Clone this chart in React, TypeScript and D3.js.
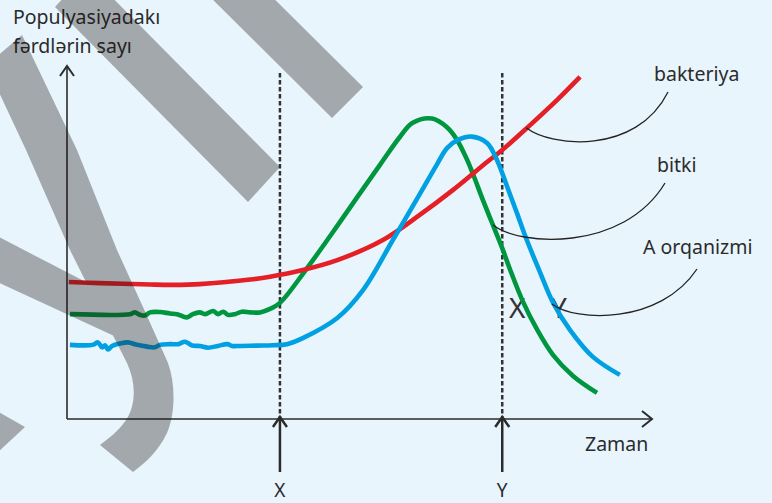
import React from "react";
import * as d3 from "d3";

const W = 772;
const H = 503;

// time (0-100 along the x axis) and population values (0-100 along the y axis)
const bacteriaT = [0.3, 5.6, 14.2, 18.1, 22.7, 31.3, 34.7, 40.3, 46.2, 54.0, 60.3, 66.0, 71.8, 74.4, 78.6, 83.8, 87.7];
const bacteriaV = [38.8, 38.5, 38.1, 38.0, 38.2, 39.5, 40.3, 42.2, 45.0, 50.7, 57.8, 64.9, 72.8, 76.2, 82.4, 90.4, 96.9];

const plantT = [0.5, 10.8, 11.6, 12.5, 13.3, 14.2, 15.9, 17.6, 18.8, 20.5, 21.5, 22.7, 23.6, 25.0, 25.8, 26.7, 27.5, 28.7, 29.9, 31.3, 33.0, 34.7, 36.4, 40.8, 46.2, 50.1, 53.5, 56.9, 59.1, 62.4, 64.9, 66.7, 68.4, 69.4, 71.1, 72.8, 74.4, 75.7, 77.9, 80.3, 83.1, 86.5, 90.6];
const plantV = [29.7, 29.7, 30.2, 29.5, 29.3, 30.2, 30.3, 29.9, 29.7, 28.8, 29.7, 30.2, 29.7, 30.6, 29.7, 30.4, 29.5, 29.7, 30.4, 30.2, 30.2, 31.2, 32.9, 42.2, 54.7, 64.0, 72.0, 79.9, 83.9, 85.1, 82.7, 79.0, 73.4, 69.4, 62.0, 55.0, 48.4, 42.5, 33.4, 25.5, 18.1, 12.2, 7.4];

const organismT = [0.5, 4.4, 5.3, 6.0, 6.5, 7.0, 7.7, 9.1, 10.4, 12.0, 13.7, 15.0, 15.9, 17.6, 19.0, 20.2, 21.4, 22.7, 24.1, 25.8, 27.4, 28.2, 29.6, 32.5, 35.2, 37.6, 40.3, 46.2, 50.6, 55.7, 60.3, 63.2, 65.0, 67.0, 69.2, 71.8, 73.5, 75.2, 76.9, 78.6, 80.9, 83.1, 86.0, 89.9, 94.5];
const organismV = [21.0, 21.0, 21.7, 20.3, 20.9, 19.7, 20.7, 21.4, 21.7, 21.0, 20.5, 20.3, 21.0, 21.2, 21.2, 21.9, 20.8, 20.7, 20.2, 20.7, 21.2, 20.7, 20.7, 20.8, 20.9, 21.2, 22.9, 28.6, 36.5, 50.7, 63.7, 72.0, 76.8, 79.2, 80.0, 78.2, 73.4, 66.0, 58.4, 50.7, 41.4, 32.9, 25.2, 17.6, 12.5];

const seriesNames = ["bitki", "bakteriya", "A orqanizmi"];
const seriesColors = ["#00963f", "#e41f26", "#00a0e3"];

// time markers
const markerLabels = ["X", "Y"];
const markerT = [36.4, 74.4];

const yTitle = ["Populyasiyadakı", "fərdlərin sayı"];
const xTitle = "Zaman";

// leader anchors on the curves (t, v)
const anchorT = [72.8, 78.5, 82.9];
const anchorV = [55.0, 82.5, 32.6];

const x = d3.scaleLinear().domain([0, 100]).range([67, 652]);
const y = d3.scaleLinear().domain([0, 100]).range([419, 66]);

const line = d3
  .line<[number, number]>()
  .x((d) => x(d[0]))
  .y((d) => y(d[1]))
  .curve(d3.curveCatmullRom.alpha(0.5));

const zip = (a: number[], b: number[]) => a.map((t, i) => [t, b[i]] as [number, number]);
const series = [zip(plantT, plantV), zip(bacteriaT, bacteriaV), zip(organismT, organismV)];

const FONT = "'Noto Sans', 'Open Sans', sans-serif";
const INK = "#2b2b2b";

// decorative watermark bands
const wm1 = "M55,7 L248,202 L280,167 L87,-28 Z";
const wm2 = "M200,-13 L332,118 L363,87 L231,-44 Z";
const wm3 =
  "M22,35 L77,150 L117,250 L143,307 L168,363 C176,385 175,415 167,433 C158,452 145,463 133,472 L100,445 C112,436 126,425 131,410 C136,395 134,378 127,363 L100,310 L70,250 L26,150 L-3,88 L-12,64 Z";
const wm4 = "M-5,235 L138,309 L138,347 L-5,281 Z";
const wm5 = "M-5,410 L25,427 L-5,455 Z";

// label layout (series labels + leader curve control offsets)
const labelPos = [
  { x: 657, y: 172, sx: 665, sy: 183, c1: [25, 21], c2: [130, 28] },
  { x: 654, y: 81, sx: 668, sy: 92, c1: [24, 19], c2: [110, 28] },
  { x: 643, y: 254, sx: 697, sy: 269, c1: [23, 18], c2: [108, 21] },
];

export default function App() {
  const bx = markerT.map((t) => x(t));
  return (
    <svg
      width={W}
      height={H}
      style={{ position: "absolute", left: 0, top: 0 }}
      xmlns="http://www.w3.org/2000/svg"
    >
      <rect x={0} y={0} width={W} height={H} fill="#e8f5fd" />

      {/* y title */}
      {yTitle.map((t, i) => (
        <text key={t} x={13} y={24 + i * 29} fontFamily={FONT} fontSize={19.5} fill={INK}>
          {t}
        </text>
      ))}

      {/* axes */}
      <line x1={x(0)} y1={y(0)} x2={x(0)} y2={y(100) + 1} stroke={INK} strokeWidth={1.6} />
      <path d={`M${x(0) - 7},${y(100) + 10} L${x(0)},${y(100)} L${x(0) + 7},${y(100) + 10}`} fill="none" stroke={INK} strokeWidth={2} />
      <line x1={x(0)} y1={y(0)} x2={x(100)} y2={y(0)} stroke={INK} strokeWidth={1.6} />
      <path d={`M${x(100) - 10},${y(0) - 8} L${x(100)},${y(0)} L${x(100) - 10},${y(0) + 8}`} fill="none" stroke={INK} strokeWidth={2} />
      <text x={585} y={451} fontFamily={FONT} fontSize={19.5} fill={INK}>
        {xTitle}
      </text>

      {/* time markers */}
      {bx.map((px, i) => (
        <g key={markerLabels[i]}>
          <line x1={px} y1={73} x2={px} y2={y(0)} stroke="#333" strokeWidth={2.5} strokeDasharray="4.5,2.5" />
          <line x1={px} y1={y(0) - 2} x2={px} y2={472} stroke={INK} strokeWidth={2.5} />
          <path d={`M${px - 7},${y(0) + 8} L${px},${y(0) - 2} L${px + 7},${y(0) + 8}`} fill="none" stroke={INK} strokeWidth={2.5} />
          <text x={px} y={497} textAnchor="middle" fontFamily={FONT} fontSize={19} fill={INK}>
            {markerLabels[i]}
          </text>
        </g>
      ))}

      {/* letters near the falling curves */}
      <text x={509} y={318} fontFamily={FONT} fontSize={28} fill="#333">X</text>
      <text x={551} y={318} fontFamily={FONT} fontSize={28} fill="#333">Y</text>

      {/* series */}
      {series.map((s, i) => (
        <path key={seriesNames[i]} d={line(s) || ""} fill="none" stroke={seriesColors[i]} strokeWidth={4.6} />
      ))}

      {/* leaders and labels */}
      {labelPos.map((p, i) => {
        const ax = x(anchorT[i]);
        const ay = y(anchorV[i]);
        const d = `M${ax},${ay} C${ax + p.c1[0]},${ay + p.c1[1]} ${ax + p.c2[0]},${ay + p.c2[1]} ${p.sx},${p.sy}`;
        return (
          <g key={seriesNames[i]}>
            <path d={d} fill="none" stroke="#222" strokeWidth={1.3} />
            <text x={p.x} y={p.y} fontFamily={FONT} fontSize={19.5} fill={INK}>
              {seriesNames[i]}
            </text>
          </g>
        );
      })}

      {/* watermark */}
      <g opacity={0.33} fill="#1a100e">
        <path d={wm1} />
        <path d={wm2} />
        <path d={wm3} />
        <path d={wm4} />
        <path d={wm5} />
      </g>
    </svg>
  );
}
